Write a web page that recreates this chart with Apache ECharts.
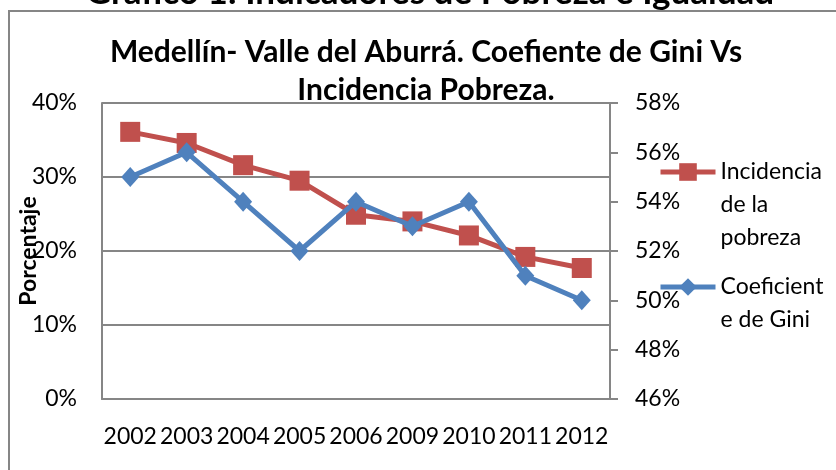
<!DOCTYPE html>
<html>
<head>
<meta charset="utf-8">
<script src="https://cdn.jsdelivr.net/npm/echarts@6/dist/echarts.min.js"></script>
<style>
html,body{margin:0;padding:0;background:#fff;}
#chart{width:836px;height:470px;}
</style>
</head>
<body>
<div id="chart"></div>
<script>
// ---- data ----
const years = ['2002','2003','2004','2005','2006','2009','2010','2011','2012'];
const pobreza = [36.1, 34.6, 31.6, 29.5, 24.9, 24.0, 22.1, 19.2, 17.7];   // % (left axis)
const gini = [55.0, 56.0, 54.0, 52.0, 54.0, 53.0, 54.0, 51.0, 50.0];      // % (right axis)
const seriesNames = ['Incidencia de la pobreza', 'Coeficiente de Gini'];
const legendLines = [['Incidencia', 'de la', 'pobreza'], ['Coeficient', 'e de Gini']];
const leftTicks = {min: 0, max: 40, interval: 10};
const rightTicks = {min: 46, max: 58, interval: 2};
const chartTitle = 'Medellín- Valle del Aburrá. Coefiente de Gini Vs\nIncidencia Pobreza.';
const headerTitle = 'Gráfico 1: Indicadores de Pobreza e Igualdad';
const yAxisName = 'Porcentaje';

const FONT = 'Lato';
const GRAY = '#868686';
const RED = '#C0504D';
const BLUE = '#4F81BD';

const chart = echarts.init(document.getElementById('chart'), null, {renderer: 'canvas'});

const LH = 33;
// legend text block is centred on its icon; blank lines above push the first
// real line level with the icon, as in the reference
function legendFor(idx, iconCenterY) {
  const lines = legendLines[idx];
  const blanks = lines.length - 1;
  const text = new Array(blanks).fill(' ').concat(lines).join('\n');
  const total = (lines.length + blanks) * LH;
  return {
    show: true,
    orient: 'vertical',
    left: 658,
    top: iconCenterY - total / 2,
    padding: 0,
    itemWidth: 55,
    itemHeight: 22,
    itemGap: 0,
    data: [seriesNames[idx]],
    formatter: function () { return text; },
    lineStyle: {width: 5},
    textStyle: {fontFamily: FONT, fontSize: 23, color: '#000', lineHeight: LH}
  };
}

const option = {
  backgroundColor: '#fff',
  animation: false,
  textStyle: {fontFamily: FONT},
  title: {
    text: chartTitle,
    left: 426,
    top: 33,
    padding: 0,
    textAlign: 'center',
    textStyle: {fontFamily: FONT, fontWeight: 'bold', fontSize: 30, color: '#000', lineHeight: 38}
  },
  graphic: [
    {
      type: 'rect', silent: true, z: -1,
      shape: {x: 9, y: 11, width: 1000, height: 1000},
      style: {fill: 'none', stroke: GRAY, lineWidth: 2}
    },
    {
      type: 'text', silent: true,
      style: {
        text: headerTitle, x: 430, y: 10,
        align: 'center', verticalAlign: 'bottom',
        font: 'bold 35px ' + FONT, fill: '#000'
      }
    }
  ],
  legend: [legendFor(0, 172), legendFor(1, 287)],
  grid: {left: 102, right: 226, top: 103, bottom: 71, containLabel: false, outerBoundsMode: 'none'},
  xAxis: {
    type: 'category',
    data: years,
    boundaryGap: true,
    axisLine: {show: true, lineStyle: {color: GRAY, width: 2}},
    axisTick: {show: false},
    axisLabel: {fontFamily: FONT, fontSize: 23, color: '#000', margin: 26, interval: 0}
  },
  yAxis: [
    {
      type: 'value',
      min: leftTicks.min, max: leftTicks.max, interval: leftTicks.interval,
      name: yAxisName,
      nameLocation: 'middle',
      nameRotate: 90,
      nameGap: 62,
      nameMoveOverlap: false,
      nameTextStyle: {fontFamily: FONT, fontWeight: 'bold', fontSize: 23, color: '#000'},
      axisLine: {show: true, lineStyle: {color: GRAY, width: 2}},
      axisTick: {show: false},
      axisLabel: {fontFamily: FONT, fontSize: 23, color: '#000', margin: 25, formatter: v => v + '%'},
      splitLine: {show: true, lineStyle: {color: GRAY, width: 2}}
    },
    {
      type: 'value',
      position: 'right',
      min: rightTicks.min, max: rightTicks.max, interval: rightTicks.interval,
      axisLine: {show: true, lineStyle: {color: GRAY, width: 2}},
      axisTick: {show: true, inside: false, length: 8, lineStyle: {color: GRAY, width: 2}},
      axisLabel: {fontFamily: FONT, fontSize: 23, color: '#000', margin: 25, formatter: v => v + '%'},
      splitLine: {show: false}
    }
  ],
  series: [
    {
      name: seriesNames[0],
      type: 'line',
      yAxisIndex: 0,
      data: pobreza,
      symbol: 'rect',
      symbolSize: 20,
      showAllSymbol: true,
      lineStyle: {color: RED, width: 5},
      itemStyle: {color: RED},
      z: 2
    },
    {
      name: seriesNames[1],
      type: 'line',
      yAxisIndex: 1,
      data: gini,
      symbol: 'diamond',
      symbolSize: [18, 20],
      showAllSymbol: true,
      lineStyle: {color: BLUE, width: 5},
      itemStyle: {color: BLUE},
      z: 3
    }
  ]
};
chart.setOption(option);
</script>
</body>
</html>
